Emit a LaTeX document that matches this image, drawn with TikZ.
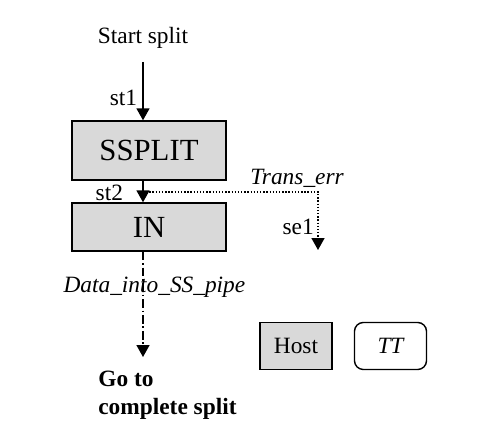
\documentclass[tikz,border=0pt]{standalone}
\usepackage{fontspec}
\setmainfont{Liberation Serif}
\usetikzlibrary{arrows.meta}

\begin{document}
\begin{tikzpicture}
        [x=0.02cm, y=-0.02cm,
        block/.style={draw, fill=gray!30, line width=0.8pt, inner sep=0pt, font=\fontsize{17.5}{20}\selectfont},
        legend/.style={draw, line width=0.8pt, inner sep=0pt, minimum width=72*0.02cm, minimum height=47*0.02cm},
        lbl/.style={inner sep=0pt, font=\fontsize{13.3}{16}\selectfont},
        flow/.style={line width=0.8pt, -{Triangle[width=7.4pt,length=6.8pt]}},
        errflow/.style={flow, densely dotted},
        dataflow/.style={flow, dash pattern=on 5pt off 1.5pt on 1pt off 1.5pt}]

        \useasboundingbox (0,0) rectangle (487,448);

        \node[lbl] (start) at (143,38) {Start split};
        \node[block, minimum width=154*0.02cm, minimum height=59*0.02cm] (ssplit) at (149,150.5) {SSPLIT};
        \node[block, minimum width=154*0.02cm, minimum height=48*0.02cm] (in) at (149,227) {IN};
        \node[lbl, anchor=north west, align=left, font=\fontsize{13.3}{16}\selectfont\bfseries] (goto) at (98,371) {Go to\\complete split};
        \node[legend, fill=gray!30, font=\fontsize{13.3}{16}\selectfont] (host) at (296,346) {Host};
        \node[legend, rounded corners=5pt, font=\fontsize{13.3}{16}\selectfont\itshape] (tt) at (390.5,346) {TT};

        \coordinate (s0) at (143,62);
        \coordinate (e0) at (143,192);
        \coordinate (e1) at (318,250);
        \coordinate (d1) at (143,357);

        \draw[flow] (s0) -- (ssplit.north -| s0) node[lbl, pos=0.61, left=3pt] {st1};
        \draw[flow] (ssplit.south -| s0) -- (in.north -| s0) node[lbl, pos=0.55, left=11pt] {st2};
        \draw[errflow] (e0) -| (e1) node[lbl, pos=0.44, above=2pt, font=\fontsize{13.3}{16}\selectfont\itshape] {Trans\_err}
                node[lbl, pos=0.8, left=2pt] {se1};
        \draw[dataflow] (in.south -| s0) -- (d1) node[lbl, pos=0.34, xshift=6.5pt, font=\fontsize{13.3}{16}\selectfont\itshape] {Data\_into\_SS\_pipe};

    \end{tikzpicture}
\end{document}
